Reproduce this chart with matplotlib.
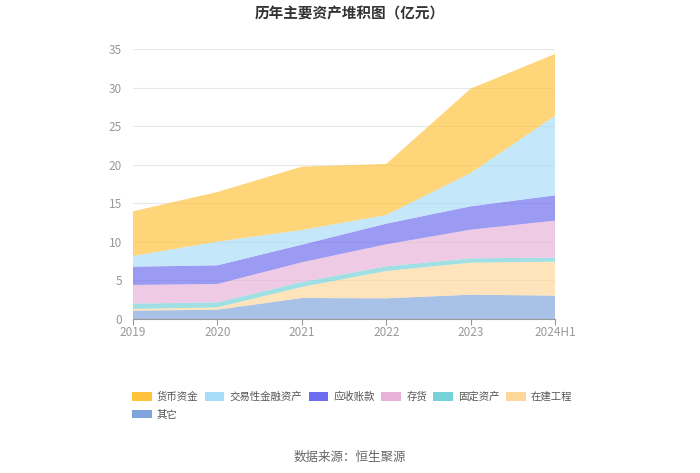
import numpy as np
import matplotlib.pyplot as plt
from matplotlib.patches import Patch

plt.rcParams['font.family'] = ['Noto Sans CJK SC', 'DejaVu Sans']

# 数据（亿元），读自原图
years = ['2019', '2020', '2021', '2022', '2023', '2024H1']
qita = [1.08, 1.21, 2.72, 2.68, 3.15, 3.03]          # 其它
zaijian = [0.22, 0.30, 1.43, 3.54, 4.15, 4.40]       # 在建工程
guding = [0.69, 0.65, 0.65, 0.61, 0.57, 0.52]        # 固定资产
cunhuo = [2.42, 2.38, 2.55, 2.85, 3.71, 4.80]        # 存货
yingshou = [2.37, 2.42, 2.29, 2.68, 3.03, 3.28]      # 应收账款
jiaoyi = [1.39, 3.07, 1.90, 1.12, 4.32, 10.33]       # 交易性金融资产
huobi = [5.79, 6.43, 8.21, 6.62, 10.93, 8.00]        # 货币资金

names = ['其它', '在建工程', '固定资产', '存货', '应收账款', '交易性金融资产', '货币资金']
series = [qita, zaijian, guding, cunhuo, yingshou, jiaoyi, huobi]
colors = ['#7fa4dc', '#ffd79a', '#74d2d8', '#e8b2d8', '#6c6cf0', '#a8ddf8', '#ffc23b']

fig = plt.figure(figsize=(7, 4.73), dpi=100)
ax = fig.add_axes([0.19, 0.3256, 0.603, 0.5708])

x = np.arange(len(years))
ax.stackplot(x, *series, colors=colors, alpha=0.68, linewidth=0)

ax.set_xlim(0, len(years) - 1)
ax.set_ylim(0, 35)
ax.set_yticks(np.arange(0, 36, 5))
ax.set_xticks(x)
ax.set_xticklabels(years)
ax.grid(axis='y', color='#e8e8e8', linewidth=0.8)
ax.set_axisbelow(True)
for s in ['left', 'right', 'top']:
    ax.spines[s].set_visible(False)
ax.spines['bottom'].set_color('#999999')
ax.tick_params(axis='y', length=0, labelsize=8.5, labelcolor='#999999', pad=8)
ax.tick_params(axis='x', length=4, color='#999999', labelsize=8.5, labelcolor='#999999', pad=1)

fig.text(0.5, 0.972, '历年主要资产堆积图（亿元）', ha='center', va='center',
         fontsize=10.5, fontweight='bold', color='#333333')
fig.text(0.5, 0.034, '数据来源：恒生聚源', ha='center', va='center',
         fontsize=9, color='#666666')

# 图例：第一行六项，第二行“其它”
order = [6, 0, 5, 4, 3, 2, 1]
handles = [Patch(facecolor=colors[i], edgecolor='none', label=names[i]) for i in order]
fig.legend(handles=handles, ncol=6, loc='upper left', bbox_to_anchor=(0.178, 0.188),
           frameon=False, fontsize=7.5, handlelength=1.9, handleheight=0.9,
           handletextpad=0.5, columnspacing=0.6, labelspacing=0.75,
           borderpad=0.2, labelcolor='#555555')

fig.savefig('out.png', dpi=100)
